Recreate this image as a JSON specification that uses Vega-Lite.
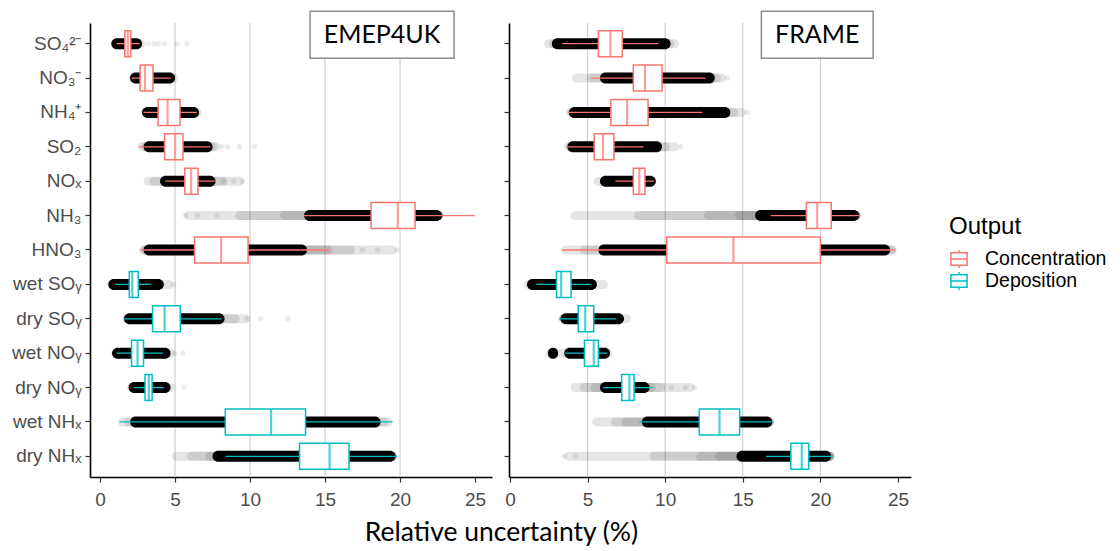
{
  "$schema": "https://vega.github.io/schema/vega-lite/v6.json",
  "background": "white",
  "padding": {"left": 11, "top": 10, "right": 5, "bottom": 5},
  "config": {
    "view": {"stroke": null},
    "axis": {"domainColor": "black", "domainWidth": 1.6, "tickColor": "#333333", "tickSize": 5, "tickWidth": 1.2, "labelColor": "#4D4D4D", "labelFont": "Liberation Sans", "labelFontSize": 19, "grid": false},
    "legend": {"titleFont": "Liberation Sans", "titleFontSize": 24, "titleFontWeight": "normal", "titleColor": "black", "labelFont": "Liberation Sans", "labelFontSize": 19.5, "labelColor": "black", "symbolType": "M-0.9,-0.7H0.9V0.7H-0.9Z M-0.9,0H0.9 M0,-0.7V-1 M0,0.7V1", "symbolSize": 324, "symbolStrokeWidth": 1.5, "symbolFillColor": "white", "labelOffset": 16, "rowPadding": -4, "titlePadding": 10}
  },
  "datasets": {
    "grid": [{"v": 5}, {"v": 10}, {"v": 15}, {"v": 20}],
    "box": [
      {"m": "EMEP4UK", "c": "SO₄²⁻", "o": "Concentration", "wlo": 1.1, "q1": 1.65, "med": 1.85, "q3": 2.05, "whi": 2.65},
      {"m": "EMEP4UK", "c": "NO₃⁻", "o": "Concentration", "wlo": 2.1, "q1": 2.67, "med": 3.0, "q3": 3.53, "whi": 4.7},
      {"m": "EMEP4UK", "c": "NH₄⁺", "o": "Concentration", "wlo": 2.9, "q1": 3.87, "med": 4.5, "q3": 5.33, "whi": 6.45},
      {"m": "EMEP4UK", "c": "SO₂", "o": "Concentration", "wlo": 2.6, "q1": 4.3, "med": 5.0, "q3": 5.53, "whi": 7.35},
      {"m": "EMEP4UK", "c": "NOₓ", "o": "Concentration", "wlo": 4.35, "q1": 5.65, "med": 6.07, "q3": 6.53, "whi": 7.7},
      {"m": "EMEP4UK", "c": "NH₃", "o": "Concentration", "wlo": 13.6, "q1": 18.07, "med": 19.85, "q3": 21.0, "whi": 25.0},
      {"m": "EMEP4UK", "c": "HNO₃", "o": "Concentration", "wlo": 2.7, "q1": 6.3, "med": 8.07, "q3": 9.87, "whi": 15.25},
      {"m": "EMEP4UK", "c": "wet SOᵧ", "o": "Deposition", "wlo": 1.0, "q1": 1.95, "med": 2.15, "q3": 2.55, "whi": 3.4},
      {"m": "EMEP4UK", "c": "dry SOᵧ", "o": "Deposition", "wlo": 1.6, "q1": 3.5, "med": 4.3, "q3": 5.35, "whi": 8.1},
      {"m": "EMEP4UK", "c": "wet NOᵧ", "o": "Deposition", "wlo": 1.1, "q1": 2.1, "med": 2.5, "q3": 2.9, "whi": 4.2},
      {"m": "EMEP4UK", "c": "dry NOᵧ", "o": "Deposition", "wlo": 2.25, "q1": 3.0, "med": 3.25, "q3": 3.47, "whi": 4.25},
      {"m": "EMEP4UK", "c": "wet NHₓ", "o": "Deposition", "wlo": 1.3, "q1": 8.35, "med": 11.4, "q3": 13.7, "whi": 19.5},
      {"m": "EMEP4UK", "c": "dry NHₓ", "o": "Deposition", "wlo": 8.4, "q1": 13.3, "med": 15.3, "q3": 16.6, "whi": 19.8},
      {"m": "FRAME", "c": "SO₄²⁻", "o": "Concentration", "wlo": 3.36, "q1": 5.7, "med": 6.47, "q3": 7.24, "whi": 9.56},
      {"m": "FRAME", "c": "NO₃⁻", "o": "Concentration", "wlo": 5.2, "q1": 7.95, "med": 8.7, "q3": 9.8, "whi": 12.6},
      {"m": "FRAME", "c": "NH₄⁺", "o": "Concentration", "wlo": 3.75, "q1": 6.5, "med": 7.55, "q3": 8.9, "whi": 12.4},
      {"m": "FRAME", "c": "SO₂", "o": "Concentration", "wlo": 3.7, "q1": 5.43, "med": 6.0, "q3": 6.7, "whi": 8.6},
      {"m": "FRAME", "c": "NOₓ", "o": "Concentration", "wlo": 6.8, "q1": 7.95, "med": 8.33, "q3": 8.7, "whi": 9.3},
      {"m": "FRAME", "c": "NH₃", "o": "Concentration", "wlo": 16.8, "q1": 19.1, "med": 19.8, "q3": 20.7, "whi": 22.5},
      {"m": "FRAME", "c": "HNO₃", "o": "Concentration", "wlo": 3.36, "q1": 10.1, "med": 14.4, "q3": 20.0, "whi": 24.8},
      {"m": "FRAME", "c": "wet SOᵧ", "o": "Deposition", "wlo": 1.7, "q1": 3.0, "med": 3.3, "q3": 3.94, "whi": 5.2},
      {"m": "FRAME", "c": "dry SOᵧ", "o": "Deposition", "wlo": 3.15, "q1": 4.4, "med": 4.85, "q3": 5.4, "whi": 6.85},
      {"m": "FRAME", "c": "wet NOᵧ", "o": "Deposition", "wlo": 3.55, "q1": 4.8, "med": 5.4, "q3": 5.7, "whi": 6.27},
      {"m": "FRAME", "c": "dry NOᵧ", "o": "Deposition", "wlo": 6.0, "q1": 7.2, "med": 7.7, "q3": 8.0, "whi": 9.2},
      {"m": "FRAME", "c": "wet NHₓ", "o": "Deposition", "wlo": 8.33, "q1": 12.2, "med": 13.5, "q3": 14.8, "whi": 17.0},
      {"m": "FRAME", "c": "dry NHₓ", "o": "Deposition", "wlo": 16.5, "q1": 18.1, "med": 18.8, "q3": 19.25, "whi": 20.8}
    ],
    "core": [
      {"m": "EMEP4UK", "c": "SO₄²⁻", "lo": 0.75, "hi": 2.8},
      {"m": "EMEP4UK", "c": "NO₃⁻", "lo": 2.0, "hi": 5.0},
      {"m": "EMEP4UK", "c": "NH₄⁺", "lo": 2.8, "hi": 6.6},
      {"m": "EMEP4UK", "c": "SO₂", "lo": 2.9, "hi": 7.5},
      {"m": "EMEP4UK", "c": "NOₓ", "lo": 4.0, "hi": 7.7},
      {"m": "EMEP4UK", "c": "NH₃", "lo": 13.6, "hi": 22.8},
      {"m": "EMEP4UK", "c": "HNO₃", "lo": 2.9, "hi": 13.8},
      {"m": "EMEP4UK", "c": "wet SOᵧ", "lo": 0.55, "hi": 4.25},
      {"m": "EMEP4UK", "c": "dry SOᵧ", "lo": 1.6, "hi": 8.3},
      {"m": "EMEP4UK", "c": "wet NOᵧ", "lo": 0.8, "hi": 4.7},
      {"m": "EMEP4UK", "c": "dry NOᵧ", "lo": 1.9, "hi": 4.7},
      {"m": "EMEP4UK", "c": "wet NHₓ", "lo": 2.0, "hi": 18.7},
      {"m": "EMEP4UK", "c": "dry NHₓ", "lo": 7.5, "hi": 19.7},
      {"m": "FRAME", "c": "SO₄²⁻", "lo": 2.7, "hi": 10.35},
      {"m": "FRAME", "c": "NO₃⁻", "lo": 5.8, "hi": 13.2},
      {"m": "FRAME", "c": "NH₄⁺", "lo": 3.8, "hi": 14.2},
      {"m": "FRAME", "c": "SO₂", "lo": 3.7, "hi": 9.8},
      {"m": "FRAME", "c": "NOₓ", "lo": 5.8, "hi": 9.4},
      {"m": "FRAME", "c": "NH₃", "lo": 15.8, "hi": 22.5},
      {"m": "FRAME", "c": "HNO₃", "lo": 5.7, "hi": 24.5},
      {"m": "FRAME", "c": "wet SOᵧ", "lo": 1.1, "hi": 5.6},
      {"m": "FRAME", "c": "dry SOᵧ", "lo": 3.25, "hi": 7.35},
      {"m": "FRAME", "c": "wet NOᵧ", "lo": 2.45, "hi": 3.1},
      {"m": "FRAME", "c": "wet NOᵧ", "lo": 3.5, "hi": 6.45},
      {"m": "FRAME", "c": "dry NOᵧ", "lo": 5.8, "hi": 9.0},
      {"m": "FRAME", "c": "wet NHₓ", "lo": 8.5, "hi": 16.9},
      {"m": "FRAME", "c": "dry NHₓ", "lo": 14.6, "hi": 20.7}
    ],
    "tail": [
      {"m": "EMEP4UK", "c": "SO₄²⁻", "lo": 0.7, "hi": 3.0},
      {"m": "EMEP4UK", "c": "NO₃⁻", "lo": 1.9, "hi": 5.2},
      {"m": "EMEP4UK", "c": "NH₄⁺", "lo": 2.7, "hi": 6.8},
      {"m": "EMEP4UK", "c": "SO₂", "lo": 2.5, "hi": 8.0},
      {"m": "EMEP4UK", "c": "SO₂", "lo": 2.7, "hi": 7.8},
      {"m": "EMEP4UK", "c": "NOₓ", "lo": 2.9, "hi": 9.6},
      {"m": "EMEP4UK", "c": "NOₓ", "lo": 3.3, "hi": 8.5},
      {"m": "EMEP4UK", "c": "NH₃", "lo": 5.6, "hi": 22.9},
      {"m": "EMEP4UK", "c": "NH₃", "lo": 9.0, "hi": 22.9},
      {"m": "EMEP4UK", "c": "NH₃", "lo": 12.0, "hi": 22.9},
      {"m": "EMEP4UK", "c": "HNO₃", "lo": 2.6, "hi": 19.8},
      {"m": "EMEP4UK", "c": "HNO₃", "lo": 2.7, "hi": 17.0},
      {"m": "EMEP4UK", "c": "HNO₃", "lo": 2.8, "hi": 15.5},
      {"m": "EMEP4UK", "c": "wet SOᵧ", "lo": 0.45, "hi": 4.9},
      {"m": "EMEP4UK", "c": "dry SOᵧ", "lo": 1.5, "hi": 10.0},
      {"m": "EMEP4UK", "c": "dry SOᵧ", "lo": 1.5, "hi": 9.3},
      {"m": "EMEP4UK", "c": "wet NOᵧ", "lo": 0.75, "hi": 5.0},
      {"m": "EMEP4UK", "c": "dry NOᵧ", "lo": 1.8, "hi": 5.0},
      {"m": "EMEP4UK", "c": "wet NHₓ", "lo": 1.2, "hi": 19.5},
      {"m": "EMEP4UK", "c": "wet NHₓ", "lo": 1.6, "hi": 19.2},
      {"m": "EMEP4UK", "c": "dry NHₓ", "lo": 4.8, "hi": 19.8},
      {"m": "EMEP4UK", "c": "dry NHₓ", "lo": 5.8, "hi": 19.8},
      {"m": "EMEP4UK", "c": "dry NHₓ", "lo": 7.0, "hi": 19.8},
      {"m": "FRAME", "c": "SO₄²⁻", "lo": 2.2, "hi": 10.9},
      {"m": "FRAME", "c": "SO₄²⁻", "lo": 2.5, "hi": 10.6},
      {"m": "FRAME", "c": "NO₃⁻", "lo": 4.0, "hi": 13.9},
      {"m": "FRAME", "c": "NO₃⁻", "lo": 5.0, "hi": 13.6},
      {"m": "FRAME", "c": "NH₄⁺", "lo": 3.6, "hi": 15.2},
      {"m": "FRAME", "c": "NH₄⁺", "lo": 3.7, "hi": 14.7},
      {"m": "FRAME", "c": "SO₂", "lo": 3.5, "hi": 10.9},
      {"m": "FRAME", "c": "SO₂", "lo": 3.6, "hi": 10.3},
      {"m": "FRAME", "c": "NOₓ", "lo": 5.4, "hi": 9.4},
      {"m": "FRAME", "c": "NH₃", "lo": 3.9, "hi": 22.6},
      {"m": "FRAME", "c": "NH₃", "lo": 8.0, "hi": 22.6},
      {"m": "FRAME", "c": "NH₃", "lo": 12.5, "hi": 22.6},
      {"m": "FRAME", "c": "NH₃", "lo": 14.5, "hi": 22.6},
      {"m": "FRAME", "c": "HNO₃", "lo": 3.3, "hi": 24.9},
      {"m": "FRAME", "c": "HNO₃", "lo": 4.5, "hi": 24.9},
      {"m": "FRAME", "c": "wet SOᵧ", "lo": 0.9, "hi": 6.3},
      {"m": "FRAME", "c": "dry SOᵧ", "lo": 3.1, "hi": 7.8},
      {"m": "FRAME", "c": "wet NOᵧ", "lo": 2.3, "hi": 6.6},
      {"m": "FRAME", "c": "dry NOᵧ", "lo": 3.9, "hi": 11.9},
      {"m": "FRAME", "c": "dry NOᵧ", "lo": 4.5, "hi": 10.0},
      {"m": "FRAME", "c": "dry NOᵧ", "lo": 5.2, "hi": 9.4},
      {"m": "FRAME", "c": "wet NHₓ", "lo": 5.3, "hi": 17.0},
      {"m": "FRAME", "c": "wet NHₓ", "lo": 6.5, "hi": 17.0},
      {"m": "FRAME", "c": "wet NHₓ", "lo": 7.2, "hi": 17.0},
      {"m": "FRAME", "c": "dry NHₓ", "lo": 3.5, "hi": 20.9},
      {"m": "FRAME", "c": "dry NHₓ", "lo": 9.0, "hi": 20.9},
      {"m": "FRAME", "c": "dry NHₓ", "lo": 12.0, "hi": 20.9},
      {"m": "FRAME", "c": "dry NHₓ", "lo": 13.2, "hi": 20.9}
    ],
    "pts": [
      {"m": "EMEP4UK", "c": "SO₄²⁻", "v": 3.2}, {"m": "EMEP4UK", "c": "SO₄²⁻", "v": 3.6}, {"m": "EMEP4UK", "c": "SO₄²⁻", "v": 3.9},
      {"m": "EMEP4UK", "c": "SO₄²⁻", "v": 4.3}, {"m": "EMEP4UK", "c": "SO₄²⁻", "v": 5.1}, {"m": "EMEP4UK", "c": "SO₄²⁻", "v": 5.8},
      {"m": "EMEP4UK", "c": "SO₂", "v": 8.1}, {"m": "EMEP4UK", "c": "SO₂", "v": 8.5}, {"m": "EMEP4UK", "c": "SO₂", "v": 9.3}, {"m": "EMEP4UK", "c": "SO₂", "v": 10.3},
      {"m": "EMEP4UK", "c": "NOₓ", "v": 8.2}, {"m": "EMEP4UK", "c": "NOₓ", "v": 8.9}, {"m": "EMEP4UK", "c": "NOₓ", "v": 9.5},
      {"m": "EMEP4UK", "c": "NH₃", "v": 5.7}, {"m": "EMEP4UK", "c": "NH₃", "v": 6.5}, {"m": "EMEP4UK", "c": "NH₃", "v": 7.8},
      {"m": "EMEP4UK", "c": "HNO₃", "v": 17.5}, {"m": "EMEP4UK", "c": "HNO₃", "v": 18.5}, {"m": "EMEP4UK", "c": "HNO₃", "v": 19.8},
      {"m": "EMEP4UK", "c": "wet SOᵧ", "v": 4.9},
      {"m": "EMEP4UK", "c": "dry SOᵧ", "v": 9.8}, {"m": "EMEP4UK", "c": "dry SOᵧ", "v": 10.7}, {"m": "EMEP4UK", "c": "dry SOᵧ", "v": 12.5},
      {"m": "EMEP4UK", "c": "wet NOᵧ", "v": 5.0}, {"m": "EMEP4UK", "c": "wet NOᵧ", "v": 5.5},
      {"m": "EMEP4UK", "c": "dry NOᵧ", "v": 5.6},
      {"m": "FRAME", "c": "NO₃⁻", "v": 14.0},
      {"m": "FRAME", "c": "NH₄⁺", "v": 15.3},
      {"m": "FRAME", "c": "SO₂", "v": 11.0},
      {"m": "FRAME", "c": "dry NOᵧ", "v": 10.4}, {"m": "FRAME", "c": "dry NOᵧ", "v": 11.3}, {"m": "FRAME", "c": "dry NOᵧ", "v": 11.9},
      {"m": "FRAME", "c": "dry NHₓ", "v": 3.5}, {"m": "FRAME", "c": "dry NHₓ", "v": 4.2}
    ],
    "lab": [
      {"m": "EMEP4UK", "c": "SO₄²⁻", "lo": 14.0, "hi": 23.6, "mid": 18.8},
      {"m": "FRAME", "c": "SO₄²⁻", "lo": 16.2, "hi": 23.4, "mid": 19.8}
    ]
  },
  "bounds": "flush",
  "spacing": 17,
  "hconcat": [
    {
      "width": 402,
      "height": 454,
      "encoding": {
        "y": {"field": "c", "type": "nominal", "sort": null, "title": null,
          "scale": {"type": "band", "paddingInner": 0, "paddingOuter": 0.1, "domain": ["SO₄²⁻","NO₃⁻","NH₄⁺","SO₂","NOₓ","NH₃","HNO₃","wet SOᵧ","dry SOᵧ","wet NOᵧ","dry NOᵧ","wet NHₓ","dry NHₓ"]},
          "axis": {"title": null, "labelPadding": 4}}
      },
      "layer": [
        {"data": {"name": "grid"}, "mark": {"type": "rule", "color": "#CCCCCC", "strokeWidth": 1.1},
         "encoding": {"y": null, "x": {"field": "v", "type": "quantitative", "title": "Relative uncertainty (%)", "scale": {"domain": [-0.67, 26.13], "nice": false, "zero": false},
           "axis": {"values": [0, 5, 10, 15, 20, 25], "labelFlush": false, "labelPadding": 8, "title": "Relative uncertainty (%)", "titleX": 411, "titleY": 63, "titleFont": "Lato", "titleFontSize": 26.5, "titleFontWeight": "normal", "titleColor": "black", "titleBaseline": "alphabetic", "titleAlign": "center"}}}},
        {"data": {"name": "tail"}, "transform": [{"filter": "datum.m === 'EMEP4UK'"}], "mark": {"type": "bar", "color": "black", "opacity": 0.1, "size": 9, "cornerRadius": 4.5},
         "encoding": {"x": {"field": "lo", "type": "quantitative", "title": "Relative uncertainty (%)"}, "x2": {"field": "hi"}}},
        {"data": {"name": "pts"}, "transform": [{"filter": "datum.m === 'EMEP4UK'"}], "mark": {"type": "point", "filled": true, "color": "black", "opacity": 0.08, "size": 30},
         "encoding": {"x": {"field": "v", "type": "quantitative", "title": "Relative uncertainty (%)"}}},
        {"data": {"name": "core"}, "transform": [{"filter": "datum.m === 'EMEP4UK'"}], "mark": {"type": "bar", "color": "black", "size": 11, "cornerRadius": 5.5},
         "encoding": {"x": {"field": "lo", "type": "quantitative", "title": "Relative uncertainty (%)"}, "x2": {"field": "hi"}}},
        {"data": {"name": "box"}, "transform": [{"filter": "datum.m === 'EMEP4UK'"}], "mark": {"type": "rule", "strokeWidth": 1.3},
         "encoding": {"x": {"field": "wlo", "type": "quantitative", "title": "Relative uncertainty (%)"}, "x2": {"field": "whi"},
           "color": {"field": "o", "type": "nominal", "scale": {"range": ["#F8766D", "#00BFC4"]}, "legend": null}}},
        {"data": {"name": "box"}, "transform": [{"filter": "datum.m === 'EMEP4UK'"}], "mark": {"type": "bar", "fill": "white", "strokeWidth": 1.5, "size": 26},
         "encoding": {"x": {"field": "q1", "type": "quantitative", "title": "Relative uncertainty (%)"}, "x2": {"field": "q3"},
           "stroke": {"field": "o", "type": "nominal", "title": "Output", "scale": {"domain": ["Concentration", "Deposition"], "range": ["#F8766D", "#00BFC4"]},
             "legend": {"title": "Output", "orient": "none", "legendX": 859, "legendY": 192}}}},
        {"data": {"name": "box"}, "transform": [{"filter": "datum.m === 'EMEP4UK'"}], "mark": {"type": "tick", "thickness": 2.2, "size": 26},
         "encoding": {"x": {"field": "med", "type": "quantitative", "title": "Relative uncertainty (%)"},
           "color": {"field": "o", "type": "nominal", "legend": null}}},
        {"data": {"name": "lab"}, "transform": [{"filter": "datum.m === 'EMEP4UK'"}], "mark": {"type": "bar", "fill": "white", "stroke": "#8C8C8C", "strokeWidth": 1.5, "size": 47, "yOffset": -9},
         "encoding": {"x": {"field": "lo", "type": "quantitative", "title": "Relative uncertainty (%)"}, "x2": {"field": "hi"}}},
        {"data": {"name": "lab"}, "transform": [{"filter": "datum.m === 'EMEP4UK'"}], "mark": {"type": "text", "font": "Lato", "fontSize": 25, "color": "black", "baseline": "middle", "align": "center", "dy": -9},
         "encoding": {"x": {"field": "mid", "type": "quantitative", "title": "Relative uncertainty (%)"}, "text": {"field": "m"}}}
      ]
    },
    {
      "width": 402,
      "height": 454,
      "encoding": {
        "y": {"field": "c", "type": "nominal", "sort": null, "title": null,
          "scale": {"type": "band", "paddingInner": 0, "paddingOuter": 0.1, "domain": ["SO₄²⁻","NO₃⁻","NH₄⁺","SO₂","NOₓ","NH₃","HNO₃","wet SOᵧ","dry SOᵧ","wet NOᵧ","dry NOᵧ","wet NHₓ","dry NHₓ"]},
          "axis": {"title": null, "labels": false}}
      },
      "layer": [
        {"data": {"name": "grid"}, "mark": {"type": "rule", "color": "#CCCCCC", "strokeWidth": 1.1},
         "encoding": {"y": null, "x": {"field": "v", "type": "quantitative", "title": null, "scale": {"domain": [-0.06, 25.84], "nice": false, "zero": false},
           "axis": {"values": [0, 5, 10, 15, 20, 25], "labelFlush": false, "labelPadding": 8, "title": null}}}},
        {"data": {"name": "tail"}, "transform": [{"filter": "datum.m === 'FRAME'"}], "mark": {"type": "bar", "color": "black", "opacity": 0.1, "size": 9, "cornerRadius": 4.5},
         "encoding": {"x": {"field": "lo", "type": "quantitative", "title": null}, "x2": {"field": "hi"}}},
        {"data": {"name": "pts"}, "transform": [{"filter": "datum.m === 'FRAME'"}], "mark": {"type": "point", "filled": true, "color": "black", "opacity": 0.08, "size": 30},
         "encoding": {"x": {"field": "v", "type": "quantitative", "title": null}}},
        {"data": {"name": "core"}, "transform": [{"filter": "datum.m === 'FRAME'"}], "mark": {"type": "bar", "color": "black", "size": 11, "cornerRadius": 5.5},
         "encoding": {"x": {"field": "lo", "type": "quantitative", "title": null}, "x2": {"field": "hi"}}},
        {"data": {"name": "box"}, "transform": [{"filter": "datum.m === 'FRAME'"}], "mark": {"type": "rule", "strokeWidth": 1.3},
         "encoding": {"x": {"field": "wlo", "type": "quantitative", "title": null}, "x2": {"field": "whi"},
           "color": {"field": "o", "type": "nominal", "scale": {"range": ["#F8766D", "#00BFC4"]}, "legend": null}}},
        {"data": {"name": "box"}, "transform": [{"filter": "datum.m === 'FRAME'"}], "mark": {"type": "bar", "fill": "white", "strokeWidth": 1.5, "size": 26},
         "encoding": {"x": {"field": "q1", "type": "quantitative", "title": null}, "x2": {"field": "q3"},
           "stroke": {"field": "o", "type": "nominal", "title": "Output", "scale": {"domain": ["Concentration", "Deposition"], "range": ["#F8766D", "#00BFC4"]},
             "legend": {"title": "Output", "orient": "none", "legendX": 859, "legendY": 192}}}},
        {"data": {"name": "box"}, "transform": [{"filter": "datum.m === 'FRAME'"}], "mark": {"type": "tick", "thickness": 2.2, "size": 26},
         "encoding": {"x": {"field": "med", "type": "quantitative", "title": null},
           "color": {"field": "o", "type": "nominal", "legend": null}}},
        {"data": {"name": "lab"}, "transform": [{"filter": "datum.m === 'FRAME'"}], "mark": {"type": "bar", "fill": "white", "stroke": "#8C8C8C", "strokeWidth": 1.5, "size": 47, "yOffset": -9},
         "encoding": {"x": {"field": "lo", "type": "quantitative", "title": null}, "x2": {"field": "hi"}}},
        {"data": {"name": "lab"}, "transform": [{"filter": "datum.m === 'FRAME'"}], "mark": {"type": "text", "font": "Lato", "fontSize": 25, "color": "black", "baseline": "middle", "align": "center", "dy": -9},
         "encoding": {"x": {"field": "mid", "type": "quantitative", "title": null}, "text": {"field": "m"}}}
      ]
    }
  ],
  "resolve": {"scale": {"x": "independent"}, "legend": {"stroke": "shared"}}
}
